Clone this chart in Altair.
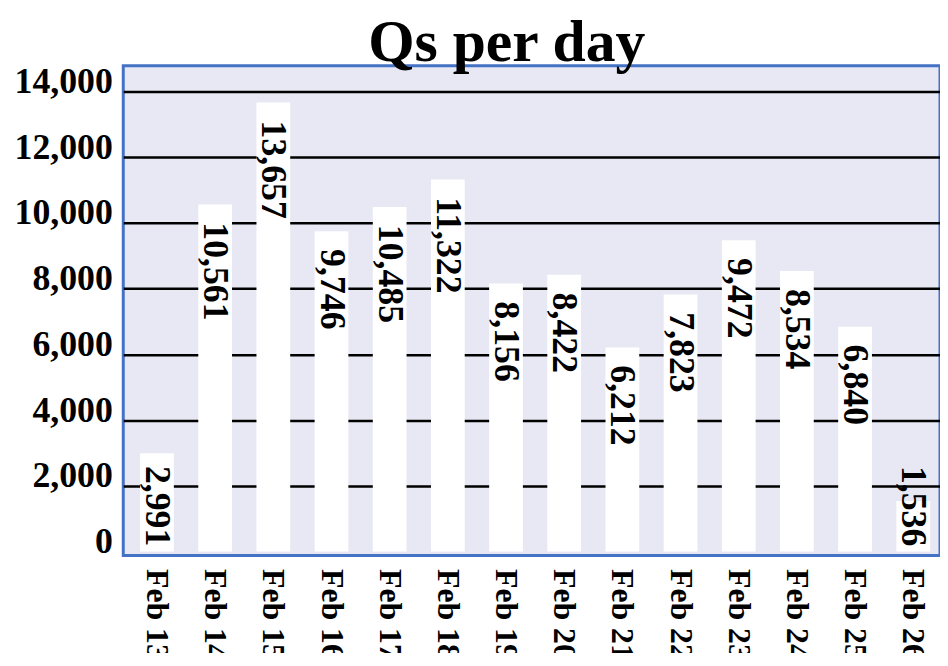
import altair as alt
import pandas as pd

days = ["Feb 13", "Feb 14", "Feb 15", "Feb 16", "Feb 17", "Feb 18", "Feb 19",
        "Feb 20", "Feb 21", "Feb 22", "Feb 23", "Feb 24", "Feb 25", "Feb 26"]
counts = [2991, 10561, 13657, 9746, 10485, 11322, 8156,
          8422, 6212, 7823, 9472, 8534, 6840, 1536]
y_ticks = [0, 2000, 4000, 6000, 8000, 10000, 12000, 14000]

df = pd.DataFrame({"day": days, "count": counts})

FONT = "Liberation Serif"
yscale = alt.Scale(domain=[-120, 14780], nice=False, zero=False)
xscale = alt.Scale(paddingInner=0.42, paddingOuter=0.23, align=0.63)

yaxis = alt.Axis(title=None, values=y_ticks, format=",.0f", labelFont=FONT,
                 labelFontSize=36, labelFontWeight="bold", labelColor="black",
                 ticks=False, domain=False, labelPadding=11, labelOffset=-10,
                 gridColor="black", gridWidth=2.5,
                 gridOpacity={"condition": {"test": "datum.value === 0", "value": 0}, "value": 1})

base = alt.Chart(df).encode(
    x=alt.X("day:N", sort=days, scale=xscale,
            axis=alt.Axis(title=None, labelAngle=90, labelFont=FONT, labelFontSize=32,
                          labelFontWeight="bold", labelColor="black", ticks=False,
                          domain=False, labelPadding=13, grid=False))
)

bars = base.mark_bar(color="white").encode(
    y=alt.Y("count:Q", scale=yscale, axis=yaxis)
)

labels = base.transform_calculate(pos="max(datum.count, 3150)").mark_text(
    angle=90, align="left", baseline="middle", dx=18, font=FONT, fontSize=36,
    fontWeight="bold", color="black"
).encode(
    y=alt.Y("pos:Q", scale=yscale, axis=yaxis),
    text=alt.Text("count:Q", format=","),
)

chart = alt.layer(bars, labels).properties(
    width=822, height=493,
    autosize=alt.AutoSizeParams(type="none"),
    padding={"left": 116, "top": 56, "right": 0, "bottom": 96},
    title=alt.Title("Qs per day", font=FONT, fontSize=60, fontWeight="bold", color="black",
                    anchor="middle", dx=-25, dy=58, baseline="alphabetic", offset=1),
).configure_view(fill="#E8E8F4", stroke="#4472C4", strokeWidth=3)

chart.save("out.html", embed_options={"renderer": "svg", "actions": False})
